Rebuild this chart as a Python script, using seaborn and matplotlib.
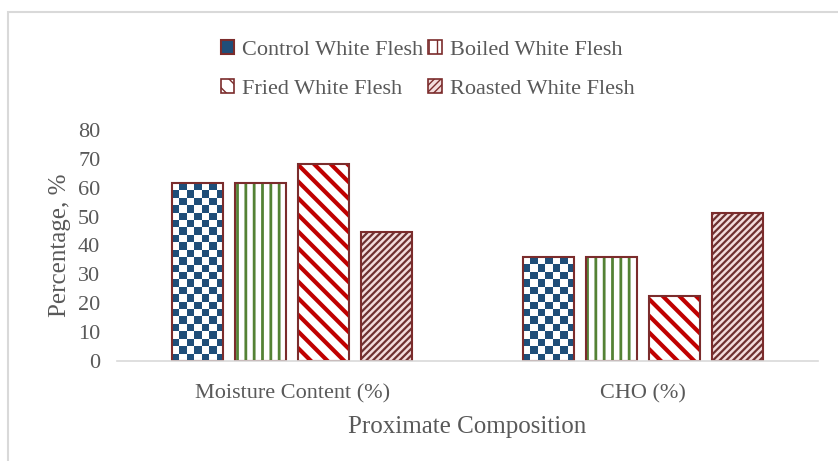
import numpy as np
import pandas as pd
import matplotlib
matplotlib.use('Agg')
import matplotlib.pyplot as plt
from matplotlib.patches import Rectangle, Patch
from matplotlib.colors import ListedColormap
import seaborn as sns

# 数据
categories = ['Moisture Content (%)', 'CHO (%)']
treatments = ['Control White Flesh', 'Boiled White Flesh',
              'Fried White Flesh', 'Roasted White Flesh']
control = [61.6, 36.0]
boiled = [61.6, 36.0]
fried = [68.2, 22.5]
roasted = [44.6, 51.2]

rows = []
for name, vals in zip(treatments, [control, boiled, fried, roasted]):
    for cat, v in zip(categories, vals):
        rows.append({'Proximate': cat, 'Treatment': name, 'Value': v})
df = pd.DataFrame(rows)

sns.set_style('white')
plt.rcParams['font.family'] = ['Liberation Serif', 'DejaVu Serif']
text_color = '#595959'
edge_color = '#7B2C2C'

# 填充样式: (底色, 纹理颜色, hatch, 线宽)
styles = {
    'Control White Flesh': ('white', '#1F4E79', None, 0),
    'Boiled White Flesh': ('white', '#548235', '||', 2.0),
    'Fried White Flesh': ('white', '#C00000', '\\\\', 3.0),
    'Roasted White Flesh': ('#F3DCDC', '#6E3030', '/////', 1.6),
}

fig = plt.figure(figsize=(8.38, 4.61), dpi=100)
ax = fig.add_axes([117 / 838, 100 / 461, 701 / 838, 231 / 461])

sns.barplot(data=df, x='Proximate', y='Value', hue='Treatment',
            hue_order=treatments, order=categories,
            width=0.72, gap=0.19, ax=ax, legend=False)

ax.set_xlim(-0.5, 1.5)
ax.set_ylim(0, 80)

bars = [p for p in ax.patches if isinstance(p, Rectangle)]
checker_cmap = ListedColormap(['white', '#1F4E79'])
for i, bar in enumerate(bars):
    name = treatments[i // len(categories)]
    face, hcol, hatch, hlw = styles[name]
    bar.set_facecolor(face)
    bar.set_edgecolor(hcol)
    bar.set_linewidth(0)
    if hatch:
        bar.set_hatch(hatch)
        if hasattr(bar, 'set_hatch_linewidth'):
            bar.set_hatch_linewidth(hlw)
    x0, y0 = bar.get_xy()
    w, h = bar.get_width(), bar.get_height()
    if name == 'Control White Flesh':
        # 棋盘格填充
        p0 = ax.transData.transform((x0, y0))
        p1 = ax.transData.transform((x0 + w, y0 + h))
        ncol = max(1, int(round((p1[0] - p0[0]) / 7.5)))
        nrow = max(1, int(round((p1[1] - p0[1]) / 7.5)))
        checker = np.indices((nrow, ncol)).sum(0) % 2
        im = ax.imshow(checker, cmap=checker_cmap, extent=(x0, x0 + w, y0, y0 + h),
                       aspect='auto', interpolation='nearest', zorder=bar.get_zorder() + 0.1)
        im.set_clip_path(bar)
    ax.add_patch(Rectangle((x0, y0), w, h, facecolor='none', edgecolor=edge_color,
                           linewidth=1.5, zorder=bar.get_zorder() + 0.5))

ax.set_xlim(-0.5, 1.5)
ax.set_ylim(0, 80)
ax.set_yticks(range(0, 81, 10))

for side in ['left', 'top', 'right']:
    ax.spines[side].set_visible(False)
ax.spines['bottom'].set_color('#D9D9D9')
ax.spines['bottom'].set_linewidth(1.2)
ax.tick_params(axis='both', length=0, labelsize=16, colors=text_color)
ax.tick_params(axis='x', pad=17)
ax.tick_params(axis='y', pad=12)
ax.set_xlabel('Proximate Composition', fontsize=18, color=text_color, labelpad=8.5)
ax.set_ylabel('Percentage, %', fontsize=18, color=text_color)
ax.yaxis.set_label_coords(-0.066, 0.5)

handles = {}
for name in treatments:
    face, hcol, hatch, hlw = styles[name]
    if name == 'Control White Flesh':
        handles[name] = Patch(facecolor=hcol, edgecolor=edge_color, linewidth=1.5)
    else:
        handles[name] = Patch(facecolor=face, edgecolor=edge_color, hatch=hatch, linewidth=1.2)
# 按行排列图例
leg_order = [treatments[0], treatments[2], treatments[1], treatments[3]]
leg = fig.legend([handles[n] for n in leg_order], leg_order, loc='upper center',
                 bbox_to_anchor=(0.51, 0.956), ncol=2, frameon=False, fontsize=16,
                 handlelength=0.6, handleheight=0.6, handletextpad=0.35,
                 columnspacing=0.25, labelspacing=0.86)
for t in leg.get_texts():
    t.set_color(text_color)

# 外框
fig.patches.append(Rectangle((8 / 838, -0.05), 1.1, 1 - 12 / 461 + 0.05,
                             transform=fig.transFigure, facecolor='none',
                             edgecolor='#D9D9D9', linewidth=1.5))

fig.savefig('out.png', dpi=100)
